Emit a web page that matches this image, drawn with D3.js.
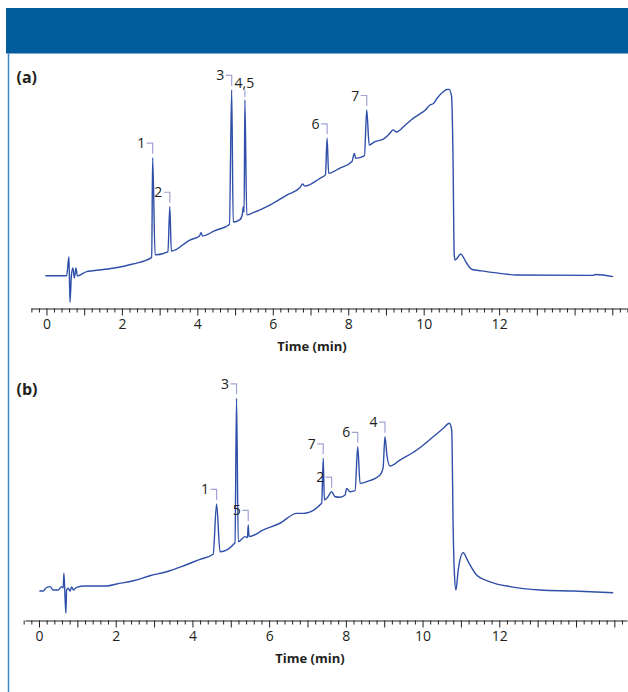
<!DOCTYPE html>
<html>
<head>
<meta charset="utf-8">
<script src="https://cdn.jsdelivr.net/npm/d3@7"></script>
<style>
  body { margin: 0; background: #fff; }
  svg { display: block; }
  text { font-family: "Open Sans", sans-serif; fill: #231f20; }
</style>
</head>
<body>
<script>
// (a) trace, time in min and detector signal (arbitrary units)
var timeA = [-0.03, 0.535, 0.596, 0.623, 0.66, 0.70, 0.74, 0.78, 0.82, 0.89, 1.065, 1.23, 1.76, 2.29, 2.79, 2.815, 2.88,
  3.22, 3.27, 3.31, 3.80, 4.055, 4.095, 4.135, 4.47, 4.85, 4.91, 4.95, 5.13, 5.195, 5.215, 5.24, 5.26, 5.31, 5.48,
  5.92, 6.37, 6.72, 6.79, 6.85, 7.25, 7.395, 7.44, 7.48, 7.78, 8.10, 8.16, 8.20, 8.43, 8.49, 8.555, 8.71, 8.93,
  9.10, 9.19, 9.28, 9.50, 9.72, 9.90, 10.03, 10.165, 10.26, 10.35, 10.52, 10.61, 10.675, 10.74, 10.775, 10.81,
  10.83, 10.89, 10.98, 11.14, 11.27, 11.53, 12.02, 12.46, 14.49, 14.56, 15.02];
var signalA = [-0.4, -0.4, 9.8, -14.7, -0.5, 3.8, -1.6, 3.8, -0.5, 0, 1.8, 2.3, 3.6, 5.9, 9.5, 63.1, 10.8,
  12.4, 36.7, 12.9, 18.8, 21.0, 22.7, 21.0, 23.9, 27.2, 99.5, 28.5, 29.8, 32.8, 36.6, 33.9, 94.1, 32.3, 33.5,
  37.6, 43.0, 47.0, 48.9, 47.8, 52.0, 53.8, 73.5, 54.7, 57.5, 61.0, 65.4, 62.7, 64.2, 88.7, 69.9, 71.7, 73.0,
  76.1, 78.0, 76.9, 80.4, 84.2, 86.6, 88.4, 91.4, 92.2, 94.9, 98.5, 99.7, 99.8, 95.9, 67.2, 10.8,
  8.1, 9.1, 11.3, 6.3, 3.1, 2.2, 0.9, 0, -0.2, 0.3, -0.9];
var peakNamesA = ["1", "2", "3", "4,5", "6", "7"];
var peakTimesA = [2.815, 3.27, 4.91, 5.26, 7.44, 8.49];
var peakSignalA = [63.1, 36.7, 99.5, 94.1, 73.5, 88.7];

// (b) trace
var timeB = [0.01, 0.11, 0.18, 0.29, 0.37, 0.50, 0.59, 0.63, 0.65, 0.70, 0.72, 0.76, 0.81, 0.85, 0.90, 0.98, 1.20,
  1.765, 2.03, 2.46, 2.89, 3.33, 3.76, 4.20, 4.54, 4.63, 4.72, 5.11, 5.15, 5.195, 5.37, 5.435, 5.455, 5.475, 5.85,
  6.28, 6.72, 6.89, 7.37, 7.41, 7.44, 7.53, 7.63, 7.72, 7.85, 7.98, 8.02, 8.11, 8.24, 8.31, 8.37, 8.54, 8.89,
  8.97, 9.02, 9.07, 9.15, 9.41, 9.85, 10.28, 10.54, 10.70, 10.76, 10.80, 10.83, 10.87, 10.93, 11.06, 11.19,
  11.41, 11.76, 12.28, 13.06, 13.93, 14.97];
var signalB = [0, 0, 1.8, 2.6, 0.6, 0.6, 2.6, 1.8, 10.6, -13.3, 0.6, 1.6, 0, 2.4, 0.6, 2.2, 3.0,
  3.0, 4.2, 6.1, 9.1, 11.5, 14.9, 18.9, 21.9, 51.9, 23.4, 28.8, 114.9, 29.4, 32.4, 31.9, 39.4, 32.4, 36.4,
  40.4, 46.3, 46.3, 52.3, 79.1, 54.3, 56.1, 59.2, 56.2, 55.9, 57.2, 61.2, 59.2, 59.8, 86.0, 64.2, 65.2, 69.2,
  73.3, 92.0, 81.1, 74.5, 78.1, 84.1, 92.0, 97.0, 100, 96.0, 34.6, 10.6, 0.6, 12.5, 22.8, 17.5,
  9.5, 5.5, 2.6, 0.6, 0, -1.0];
var peakNamesB = ["1", "2", "3", "4", "5", "6", "7"];
var peakTimesB = [4.63, 7.63, 5.15, 9.02, 5.455, 8.31, 7.41];
var peakSignalB = [51.9, 59.2, 114.9, 92.0, 39.4, 86.0, 79.1];

var tickLabels = [0, 2, 4, 6, 8, 10, 12];
var majorTicks = d3.range(0, 16);

var w = 628, h = 692;
var svg = d3.select("body").append("svg")
  .attr("width", w)
  .attr("height", h);

// header band + frame line
svg.append("rect")
  .attr("x", 6).attr("y", 8)
  .attr("width", w - 6).attr("height", 45.5)
  .attr("fill", "#015c9d");
svg.append("line")
  .attr("x1", 8.5).attr("x2", 8.5)
  .attr("y1", 53.5).attr("y2", h)
  .attr("stroke", "#3f86c8")
  .attr("stroke-width", 1.5);

function panel(p) {
  var g = svg.append("g");

  var x = d3.scaleLinear().domain(p.xDomain).range([p.left, 627]);
  var y = d3.scaleLinear().domain([0, 100]).range(p.yRange);

  var minor = d3.range(-0.4, 15.41, 0.2).filter(function(d) {
    return Math.abs(d - Math.round(d)) > 0.01;
  });

  var axisMinor = d3.axisBottom(x).tickValues(minor).tickSize(4).tickSizeOuter(0).tickFormat("");
  var axisMajor = d3.axisBottom(x).tickValues(majorTicks).tickSize(7).tickSizeOuter(0).tickPadding(4)
    .tickFormat(function(d) { return tickLabels.indexOf(d) >= 0 ? d : ""; });

  g.append("g").attr("transform", "translate(0," + p.axisY + ")").call(axisMinor)
    .select(".domain").remove();
  var ax = g.append("g").attr("transform", "translate(0," + p.axisY + ")").call(axisMajor);
  ax.attr("font-family", null).attr("font-size", null);
  ax.selectAll("path, line").attr("stroke", "#231f20");
  ax.selectAll("text").style("font-size", "14px");
  g.selectAll(".tick line").attr("stroke", "#231f20");

  g.append("text")
    .attr("x", p.titleX).attr("y", p.axisY + 42.5)
    .attr("text-anchor", "middle")
    .style("font-size", "13px").style("font-weight", "bold")
    .text("Time (min)");

  g.append("text")
    .attr("x", 16.5).attr("y", p.axisY - 226)
    .style("font-size", "16px").style("font-weight", "bold")
    .text(p.tag);

  var line = d3.line()
    .curve(d3.curveMonotoneX)
    .x(function(d) { return x(d[0]); })
    .y(function(d) { return y(d[1]); });

  g.append("path")
    .datum(d3.zip(p.time, p.signal))
    .attr("d", line)
    .attr("fill", "none")
    .attr("stroke", "#2f4fa9")
    .attr("stroke-width", 1.4)
    .attr("stroke-linejoin", "round");

  // peak tags with small brackets
  p.names.forEach(function(name, i) {
    var px = x(p.peakT[i]);
    var py = y(p.peakV[i]);
    if (name.indexOf(",") >= 0) {
      g.append("path")
        .attr("d", "M" + px + "," + (py - 10) + "V" + (py - 3))
        .attr("fill", "none").attr("stroke", "#a3a4d6").attr("stroke-width", 1.2);
      g.append("text")
        .attr("x", px - 0.5).attr("y", py - 11.7)
        .attr("text-anchor", "middle")
        .style("font-size", "14px")
        .text(name);
    } else {
      var by = py - 14.5;
      g.append("path")
        .attr("d", "M" + (px - 6) + "," + by + "H" + px + "V" + (py - 4))
        .attr("fill", "none").attr("stroke", "#a3a4d6").attr("stroke-width", 1.2);
      g.append("text")
        .attr("x", px - 7.5).attr("y", by + 5)
        .attr("text-anchor", "end")
        .style("font-size", "14px")
        .text(name);
    }
  });
}

panel({
  tag: "(a)", time: timeA, signal: signalA,
  names: peakNamesA, peakT: peakTimesA, peakV: peakSignalA,
  xDomain: [-0.41, 15.39], left: 31, yRange: [275, 89],
  axisY: 308.5, titleX: 312
});

panel({
  tag: "(b)", time: timeB, signal: signalB,
  names: peakNamesB, peakT: peakTimesB, peakV: peakSignalB,
  xDomain: [-0.365, 15.33], left: 25, yRange: [591, 423.3],
  axisY: 620.5, titleX: 310
});
</script>
</body>
</html>
